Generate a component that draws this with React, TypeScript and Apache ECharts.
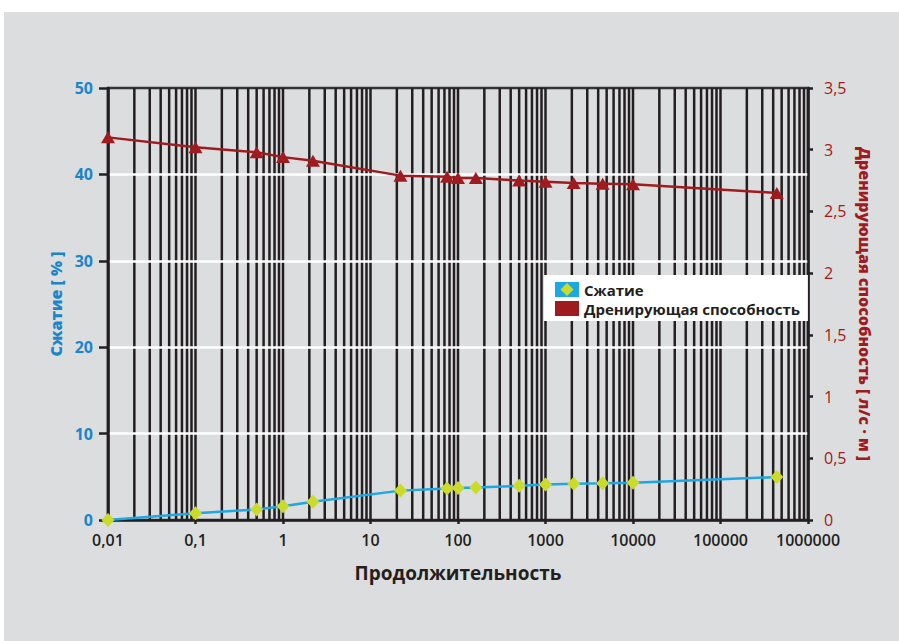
import React, { useEffect, useRef } from 'react';
import * as echarts from 'echarts';

// Data
const durations = [0.01, 0.1, 0.5, 1, 2.2, 22, 75, 100, 160, 500, 1000, 2100, 4500, 10000, 440000];
const compression = [0, 0.78, 1.22, 1.6, 2.1, 3.4, 3.65, 3.7, 3.76, 3.96, 4.12, 4.2, 4.25, 4.32, 4.97];
const drainage = [3.1, 3.02, 2.98, 2.94, 2.91, 2.79, 2.78, 2.77, 2.77, 2.75, 2.74, 2.73, 2.725, 2.72, 2.65];

const seriesNames = ['Сжатие', 'Дренирующая способность'];
const xAxisTitle = 'Продолжительность';
const leftAxisTitle = 'Сжатие [ % ]';
const rightAxisTitle = 'Дренирующая способность [ л/с · м ]';

const decadeExponents = [-2, -1, 0, 1, 2, 3, 4, 5];
const minorMultipliers = [1, 2, 3, 4, 5, 6, 7, 8, 9];

const FONT = 'Open Sans';
const BLUE = '#1a86c9';
const LINE_BLUE = '#1ca8e2';
const RED = '#a01b20';
const DARK = '#231f20';
const YELLOW = '#cbdb2a';

const fmt = (v: number) => String(Number(Number(v).toPrecision(6))).replace('.', ',');

export default function App() {
  const ref = useRef<HTMLDivElement>(null);
  useEffect(() => {
    document.body.style.margin = '0';
    const chart = echarts.init(ref.current!, null, { renderer: 'svg' });

    const gridValues: number[][] = [];
    decadeExponents.forEach((e) => {
      minorMultipliers.forEach((m) => {
        gridValues.push([Number((m * Math.pow(10, e)).toPrecision(3)), 0]);
      });
    });
    gridValues.push([1000000, 0]);

    const option: any = {
      animation: false,
      backgroundColor: '#ffffff',
      textStyle: { fontFamily: FONT },
      graphic: [
        {
          type: 'rect',
          left: 4,
          top: 12,
          shape: { width: 895, height: 629 },
          style: { fill: '#dcdddf' },
          z: -100,
          silent: true,
        },
        {
          type: 'polygon',
          shape: { points: [[567, 283], [573.5, 289.5], [567, 296], [560.5, 289.5]] },
          style: { fill: YELLOW },
          z: 100,
          silent: true,
        },
      ],
      grid: {
        left: 108,
        right: 91,
        top: 88,
        bottom: 121,
        show: true,
        borderColor: '#333333',
        borderWidth: 2.5,
        backgroundColor: 'transparent',
      },
      legend: {
        orient: 'vertical',
        left: 544,
        top: 275,
        backgroundColor: '#ffffff',
        padding: [7, 8, 5, 11],
        itemGap: 4,
        itemWidth: 24,
        itemHeight: 15,
        textStyle: { fontFamily: FONT, fontSize: 15, fontWeight: 'bold', color: DARK },
        data: [
          { name: seriesNames[0], icon: 'rect', itemStyle: { color: LINE_BLUE } },
          { name: seriesNames[1], icon: 'rect', itemStyle: { color: RED } },
        ],
      },
      xAxis: {
        type: 'log',
        logBase: 10,
        min: 0.01,
        max: 1000000,
        splitNumber: 8,
        name: xAxisTitle,
        nameLocation: 'middle',
        nameGap: 43,
        nameTextStyle: { fontFamily: FONT, fontSize: 19, fontWeight: 'bold', color: DARK },
        axisLine: { show: true, lineStyle: { color: DARK, width: 2.5 } },
        axisTick: { show: true, length: 4, lineStyle: { color: DARK, width: 2.5 } },
        axisLabel: { formatter: fmt, fontFamily: FONT, fontSize: 16, fontWeight: 600, color: DARK, margin: 12, lineHeight: 16 },
        splitLine: { show: false },
        minorTick: { show: false },
      },
      yAxis: [
        {
          type: 'value',
          min: 0,
          max: 50,
          interval: 10,
          z: 3,
          name: leftAxisTitle,
          nameLocation: 'middle',
          nameRotate: 90,
          nameGap: 44,
          nameTextStyle: { fontFamily: FONT, fontSize: 16, fontWeight: 800, color: BLUE },
          axisLine: { show: true, lineStyle: { color: DARK, width: 2.5 } },
          axisTick: { show: true, length: 9, lineStyle: { color: DARK, width: 2.5 } },
          axisLabel: { fontFamily: FONT, fontSize: 16, fontWeight: 'bold', color: BLUE, margin: 15 },
          splitLine: { show: true, showMinLine: false, showMaxLine: false, lineStyle: { color: '#ffffff', width: 2.5 } },
        },
        {
          type: 'value',
          min: 0,
          max: 3.5,
          interval: 0.5,
          position: 'right',
          z: 3,
          name: rightAxisTitle,
          nameLocation: 'middle',
          nameRotate: -90,
          nameGap: 37,
          nameTextStyle: { fontFamily: FONT, fontSize: 16, fontWeight: 800, color: RED },
          axisLine: { show: true, lineStyle: { color: DARK, width: 2.5 } },
          axisTick: { show: true, length: 5, lineStyle: { color: DARK, width: 2.5 } },
          axisLabel: {
            formatter: fmt,
            fontFamily: FONT,
            fontSize: 16,
            color: RED,
            margin: 16,
            lineHeight: 16,
            verticalAlign: 'middle',
            padding: [0, 0, 6, 0],
          },
          splitLine: { show: false },
        },
      ],
      series: [
        {
          type: 'custom',
          name: 'grid',
          xAxisIndex: 0,
          yAxisIndex: 0,
          z: 1,
          silent: true,
          clip: false,
          data: gridValues,
          renderItem: (params: any, api: any) => {
            const x = api.coord([api.value(0), 0])[0];
            const cs = params.coordSys;
            return {
              type: 'line',
              shape: { x1: x, y1: cs.y, x2: x, y2: cs.y + cs.height },
              style: { stroke: DARK, lineWidth: 2.5 },
            };
          },
        },
        {
          type: 'line',
          name: seriesNames[0],
          yAxisIndex: 0,
          z: 5,
          data: durations.map((d, i) => [d, compression[i]]),
          symbol: 'diamond',
          symbolSize: [13, 14],
          lineStyle: { color: LINE_BLUE, width: 2.5 },
          itemStyle: { color: YELLOW },
        },
        {
          type: 'line',
          name: seriesNames[1],
          yAxisIndex: 1,
          z: 5,
          data: durations.map((d, i) => [d, drainage[i]]),
          symbol: 'triangle',
          symbolSize: [14, 12],
          lineStyle: { color: RED, width: 2.5 },
          itemStyle: { color: RED },
        },
      ],
    };

    chart.setOption(option);
    return () => chart.dispose();
  }, []);
  return <div ref={ref} style={{ width: 899, height: 641 }} />;
}
